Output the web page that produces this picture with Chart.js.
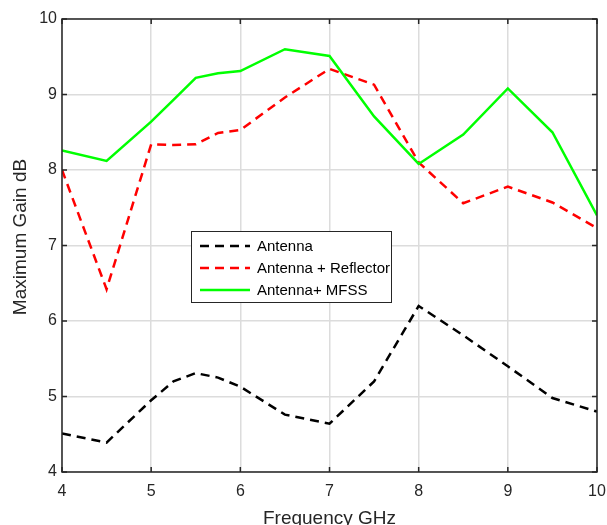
<!DOCTYPE html>
<html>
<head>
<meta charset="utf-8">
<script src="https://cdn.jsdelivr.net/npm/chart.js@4/dist/chart.umd.min.js"></script>
<style>
  html, body { margin: 0; padding: 0; background: #fff; }
  canvas { display: block; }
</style>
</head>
<body>
<canvas id="gain" width="607" height="525"></canvas>
<script>
// values
const freqGHz   = [4, 4.5, 5, 5.25, 5.5, 5.75, 6, 6.5, 7, 7.5, 8, 8.5, 9, 9.5, 10];
const antenna   = [4.51, 4.39, 4.95, 5.2, 5.31, 5.25, 5.13, 4.76, 4.64, 5.2, 6.2, 5.81, 5.4, 4.98, 4.8];
const reflector = [8.0, 6.42, 8.34, 8.33, 8.34, 8.49, 8.53, 8.96, 9.34, 9.13, 8.1, 7.56, 7.78, 7.57, 7.23];
const mfss      = [8.26, 8.12, 8.64, 8.93, 9.22, 9.28, 9.31, 9.6, 9.51, 8.71, 8.08, 8.47, 9.08, 8.5, 7.4];
const seriesNames = ['Antenna', 'Antenna + Reflector', 'Antenna+ MFSS'];
const xTitle = 'Frequency GHz';
const yTitle = 'Maximum Gain dB';

const FONT = '"Liberation Sans", Arial, Helvetica, sans-serif';
const AXIS = '#262626';

function toPoints(ys) {
    return freqGHz.map((x, i) => ({ x: x, y: ys[i] }));
}

// frame, inner ticks, axis titles and the boxed legend (MATLAB look)
const matlabFrame = {
    id: 'matlabFrame',
    afterDraw(chart) {
        const ctx = chart.ctx;
        const a = chart.chartArea;
        const xs = chart.scales.x, ys = chart.scales.y;
        ctx.save();

        ctx.strokeStyle = AXIS;
        ctx.lineWidth = 1.5;
        ctx.strokeRect(a.left, a.top, a.right - a.left, a.bottom - a.top);

        ctx.beginPath();
        xs.ticks.forEach(t => {
            const px = xs.getPixelForValue(t.value);
            ctx.moveTo(px, a.top); ctx.lineTo(px, a.top + 5);
            ctx.moveTo(px, a.bottom); ctx.lineTo(px, a.bottom - 5);
        });
        ys.ticks.forEach(t => {
            const py = ys.getPixelForValue(t.value);
            ctx.moveTo(a.left, py); ctx.lineTo(a.left + 5, py);
            ctx.moveTo(a.right, py); ctx.lineTo(a.right - 5, py);
        });
        ctx.stroke();

        // axis titles
        ctx.fillStyle = AXIS;
        ctx.font = '19px ' + FONT;
        ctx.textAlign = 'center';
        ctx.textBaseline = 'middle';
        ctx.fillText(xTitle, (a.left + a.right) / 2, 519);
        ctx.translate(21, 237);
        ctx.rotate(-Math.PI / 2);
        ctx.fillText(yTitle, 0, 0);
        ctx.setTransform(1, 0, 0, 1, 0, 0);

        // legend
        const lx = 191, ly = 231, lw = 200, lh = 71;
        ctx.fillStyle = '#fff';
        ctx.fillRect(lx, ly, lw, lh);
        ctx.font = '15px ' + FONT;
        ctx.textAlign = 'left';
        chart.data.datasets.forEach((ds, i) => {
            const y = ly + 15 + i * 22;
            ctx.strokeStyle = ds.borderColor;
            ctx.lineWidth = ds.borderWidth;
            ctx.setLineDash(ds.borderDash || []);
            ctx.beginPath();
            ctx.moveTo(lx + 9, y);
            ctx.lineTo(lx + 59, y);
            ctx.stroke();
            ctx.setLineDash([]);
            ctx.fillStyle = '#000';
            ctx.fillText(ds.label, lx + 66, y + 1);
        });
        ctx.strokeStyle = '#262626';
        ctx.lineWidth = 1;
        ctx.strokeRect(lx + 0.5, ly + 0.5, lw, lh);
        ctx.restore();
    }
};

new Chart(document.getElementById('gain'), {
    type: 'line',
    data: {
        datasets: [
            { label: seriesNames[0], data: toPoints(antenna), borderColor: '#000000',
              borderWidth: 2.5, borderDash: [9, 6], order: 3 },
            { label: seriesNames[1], data: toPoints(reflector), borderColor: '#ff0000',
              borderWidth: 2.5, borderDash: [9, 6], order: 2 },
            { label: seriesNames[2], data: toPoints(mfss), borderColor: '#00ff00',
              borderWidth: 2.5, order: 1 }
        ]
    },
    options: {
        responsive: false,
        animation: false,
        layout: { padding: { top: 19, right: 10, left: 0, bottom: 0 } },
        elements: { point: { radius: 0 }, line: { tension: 0 } },
        plugins: { legend: { display: false }, tooltip: { enabled: false } },
        scales: {
            x: {
                type: 'linear',
                min: 4, max: 10,
                ticks: { stepSize: 1, padding: 10, color: AXIS, font: { size: 16, family: FONT } },
                grid: { color: '#dcdcdc', lineWidth: 1.5, drawTicks: false },
                border: { display: false },
                afterFit(s) { s.height = 53; s.paddingLeft = 0; s.paddingRight = 0; }
            },
            y: {
                min: 4, max: 10,
                ticks: { stepSize: 1, padding: 5, color: AXIS, font: { size: 16, family: FONT } },
                grid: { color: '#dcdcdc', lineWidth: 1.5, drawTicks: false },
                border: { display: false },
                afterFit(s) { s.width = 62; s.paddingTop = 0; s.paddingBottom = 0; }
            }
        }
    },
    plugins: [matlabFrame]
});
</script>
</body>
</html>
